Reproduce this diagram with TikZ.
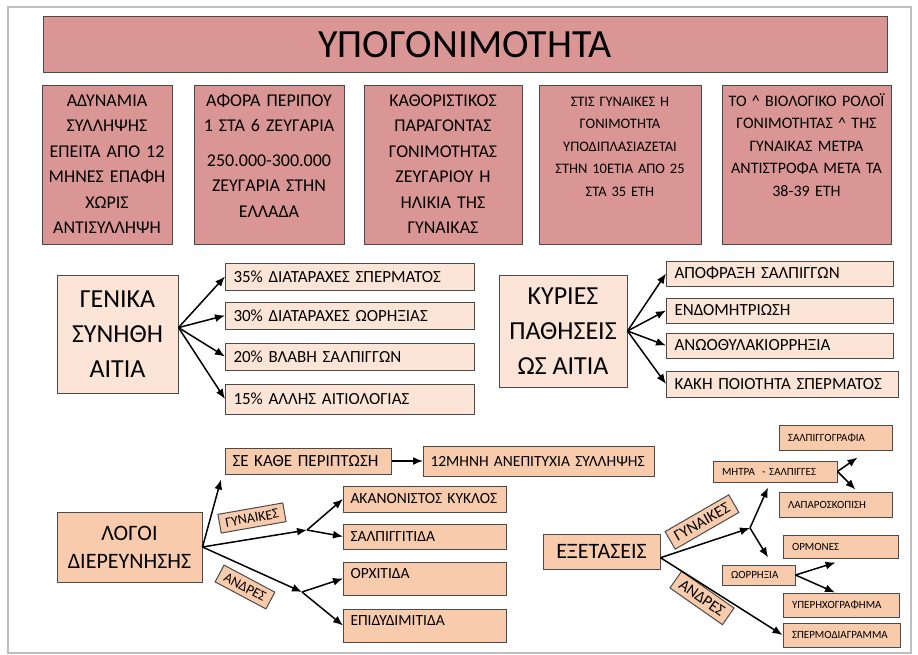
\documentclass[tikz,border=0pt]{standalone}
\usepackage{fontspec}
\setmainfont{Carlito}
\usetikzlibrary{positioning,arrows.meta}

\definecolor{rosebox}{HTML}{D99694}
\definecolor{peachlight}{HTML}{FCE4D6}
\definecolor{peachdark}{HTML}{F8CBAD}
\definecolor{boxline}{HTML}{4A4A4A}
\definecolor{pageline}{HTML}{BFBFBF}

\tikzset{
	box/.style={draw=boxline, line width=1pt},
	titlebox/.style={box, fill=rosebox, minimum width=844pt, minimum height=56pt, font=\fontsize{40}{42}\selectfont},
	topbox/.style={box, fill=rosebox, anchor=north, align=center, inner xsep=3pt, inner ysep=8pt, text height=13pt, text depth=130pt},
	bigbox/.style={box, fill=peachlight, align=center, font=\fontsize{26}{35}\selectfont},
	causebox/.style={box, fill=peachlight, align=left, inner xsep=8pt, minimum height=27pt, font=\fontsize{17}{19}\selectfont},
	midbox/.style={box, fill=peachdark, align=left, inner xsep=7pt, minimum height=26pt, font=\fontsize{15.5}{18}\selectfont},
	highbox/.style={midbox, inner ysep=5pt, text height=11pt, text depth=12pt},
	smallbox/.style={box, fill=peachdark, align=left, inner xsep=9pt, minimum height=24pt, font=\fontsize{11}{13}\selectfont},
	tagbox/.style={box, fill=peachdark, inner xsep=6pt, inner ysep=5pt},
	link/.style={->, line width=1.5pt}
}

\begin{document}
\begin{tikzpicture}[>={Latex[length=10pt,width=8pt]}, x=1pt, y=-1pt]
		\useasboundingbox (0,0) rectangle (918,655);
		\draw[pageline, line width=1.2pt] (8,7) rectangle (911,653);
		% Title and facts
		\node[titlebox] (title) at (465,45) {ΥΠΟΓΟΝΙΜΟΤΗΤΑ};
		\node[topbox, text width=124pt, font=\fontsize{18}{25.5}\selectfont] (b1) at (107,85)
			{ΑΔΥΝΑΜΙΑ\\ΣΥΛΛΗΨΗΣ\\ΕΠΕΙΤΑ ΑΠΟ 12\\ΜΗΝΕΣ ΕΠΑΦΗ\\ΧΩΡΙΣ\\ΑΝΤΙΣΥΛΛΗΨΗ};
		\node[topbox, text width=144pt, font=\fontsize{18}{25.5}\selectfont] (b2) [right=21pt of b1]
			{ΑΦΟΡΑ ΠΕΡΙΠΟΥ\\1 ΣΤΑ 6 ΖΕΥΓΑΡΙΑ\\[9pt]250.000-300.000\\ΖΕΥΓΑΡΙΑ ΣΤΗΝ\\ΕΛΛΑΔΑ};
		\node[topbox, text width=152pt, font=\fontsize{18}{25.5}\selectfont] (b3) [right=19pt of b2]
			{ΚΑΘΟΡΙΣΤΙΚΟΣ\\ΠΑΡΑΓΟΝΤΑΣ\\ΓΟΝΙΜΟΤΗΤΑΣ\\ΖΕΥΓΑΡΙΟΥ Η\\ΗΛΙΚΙΑ ΤΗΣ\\ΓΥΝΑΙΚΑΣ};
		\node[topbox, text width=156pt, font=\fontsize{14.5}{22.5}\selectfont] (b4) [right=16pt of b3]
			{ΣΤΙΣ ΓΥΝΑΙΚΕΣ Η\\ΓΟΝΙΜΟΤΗΤΑ\\ΥΠΟΔΙΠΛΑΣΙΑΖΕΤΑΙ\\ΣΤΗΝ 10ΕΤΙΑ ΑΠΟ 25\\ΣΤΑ 35 ΕΤΗ};
		\node[topbox, text width=163pt, font=\fontsize{16}{22.5}\selectfont] (b5) [right=20pt of b4]
			{ΤΟ \textasciicircum{} ΒΙΟΛΟΓΙΚΟ ΡΟΛΌΙ\\ΓΟΝΙΜΟΤΗΤΑΣ \textasciicircum{} ΤΗΣ\\ΓΥΝΑΙΚΑΣ ΜΕΤΡΑ\\ΑΝΤΙΣΤΡΟΦΑ ΜΕΤΑ ΤΑ\\38-39 ΕΤΗ};
		% General causes
		\node[bigbox, minimum width=121pt, minimum height=118pt] (gen) at (117.5,334) {ΓΕΝΙΚΑ\\ΣΥΝΗΘΗ\\ΑΙΤΙΑ};
		\node[causebox, text width=233pt, anchor=west] (c1) at (225,276.5) {35\% ΔΙΑΤΑΡΑΧΕΣ ΣΠΕΡΜΑΤΟΣ};
		\node[causebox, text width=233pt] (c2) [below=11pt of c1] {30\% ΔΙΑΤΑΡΑΧΕΣ ΩΟΡΗΞΙΑΣ};
		\node[causebox, text width=233pt] (c3) [below=13pt of c2] {20\% ΒΛΑΒΗ ΣΑΛΠΙΓΓΩΝ};
		\node[causebox, text width=233pt, minimum height=30pt] (c4) [below=13pt of c3] {15\% ΑΛΛΗΣ ΑΙΤΙΟΛΟΓΙΑΣ};
		% Main diseases
		\node[bigbox, minimum width=128pt, minimum height=112pt] (dis) at (563,331) {ΚΥΡΙΕΣ\\ΠΑΘΗΣΕΙΣ\\ΩΣ ΑΙΤΙΑ};
		\node[causebox, text width=211pt, minimum height=25pt, anchor=west] (d1) at (666,273.5) {ΑΠΟΦΡΑΞΗ ΣΑΛΠΙΓΓΩΝ};
		\node[causebox, text width=211pt, minimum height=25pt] (d2) [below=11pt of d1] {ΕΝΔΟΜΗΤΡΙΩΣΗ};
		\node[causebox, text width=211pt, minimum height=25pt] (d3) [below=9pt of d2] {ΑΝΩΟΘΥΛΑΚΙΟΡΡΗΞΙΑ};
		\node[causebox, text width=216pt, minimum height=26pt, anchor=west] (d4) at (666,384) {ΚΑΚΗ ΠΟΙΟΤΗΤΑ ΣΠΕΡΜΑΤΟΣ};
		% Reasons for investigation
		\node[box, fill=peachdark, align=center, minimum width=145pt, minimum height=70pt, font=\fontsize{22}{28}\selectfont] (why) at (129.5,547) {ΛΟΓΟΙ\\ΔΙΕΡΕΥΝΗΣΗΣ};
		\node[midbox, text width=152pt, font=\fontsize{17}{19}\selectfont, anchor=west] (any) at (225,461) {ΣΕ ΚΑΘΕ ΠΕΡΙΠΤΩΣΗ};
		\node[midbox, text width=217pt, minimum height=30pt] (fail) [right=31pt of any] {12ΜΗΝΗ ΑΝΕΠΙΤΥΧΙΑ ΣΥΛΛΗΨΗΣ};
		\node[midbox, text width=149pt, anchor=west] (irr) at (343,499) {ΑΚΑΝΟΝΙΣΤΟΣ ΚΥΚΛΟΣ};
		\node[midbox, text width=149pt, minimum height=25pt] (sal) [below=11pt of irr] {ΣΑΛΠΙΓΓΙΤΙΔΑ};
		\node[highbox, text width=149pt] (orx) [below=12pt of sal] {ΟΡΧΙΤΙΔΑ};
		\node[highbox, text width=149pt] (epi) [below=13pt of orx] {ΕΠΙΔΥΔΙΜΙΤΙΔΑ};
		\node[tagbox, rotate=10, font=\fontsize{14}{16}\selectfont] (wl) at (252,518) {ΓΥΝΑΙΚΕΣ};
		\node[tagbox, rotate=-28, font=\fontsize{14}{16}\selectfont] (ml) at (245,587) {ΑΝΔΡΕΣ};
		\coordinate (jw) at (307,530);
		\coordinate (jm) at (302,592);
		% Examinations
		\node[box, fill=peachdark, minimum width=117pt, minimum height=35pt, font=\fontsize{22}{24}\selectfont] (exam) at (601.5,551.5) {ΕΞΕΤΑΣΕΙΣ};
		\node[smallbox, text width=95pt, minimum height=25pt] (hsg) at (835.5,437.5) {ΣΑΛΠΙΓΓΟΓΡΑΦΙΑ};
		\node[smallbox, text width=106pt, minimum height=21pt] (ut) at (775,471.5) {ΜΗΤΡΑ \ - ΣΑΛΠΙΓΓΕΣ};
		\node[smallbox, text width=95pt, minimum height=25pt] (lap) at (835.5,504.5) {ΛΑΠΑΡΟΣΚΟΠΙΣΗ};
		\node[smallbox, text width=97pt, minimum height=23pt] (hor) at (840.5,546.5) {ΟΡΜΟΝΕΣ};
		\node[smallbox, text width=55pt, minimum height=20pt] (ovu) at (758.5,575) {ΩΟΡΡΗΞΙΑ};
		\node[smallbox, text width=98pt] (us) at (841,605) {ΥΠΕΡΗΧΟΓΡΑΦΗΜΑ};
		\node[smallbox, text width=99pt] (sperm) at (841.5,635) {ΣΠΕΡΜΟΔΙΑΓΡΑΜΜΑ};
		\node[tagbox, rotate=30, font=\fontsize{16}{18}\selectfont] (wr) at (702,522) {ΓΥΝΑΙΚΕΣ};
		\node[tagbox, rotate=-35, font=\fontsize{16}{18}\selectfont] (mr) at (702,598) {ΑΝΔΡΕΣ};
		\coordinate (jr) at (750,528);
		% Arrows
		\foreach \c in {c1,c2,c3,c4}
			\draw[link] (gen.6) -- (\c.west);
		\foreach \d in {d1,d2,d3,d4}
			\draw[link] (dis.east) -- (\d.west);
		\draw[link] (why.east) -- ([shift={(-4pt,-5pt)}]any.south west);
		\draw[link] (any.east) -- (fail.west);
		\draw[link] (why.east) -- (jw);
		\draw[link] (why.east) -- (jm);
		\draw[link] (jw) -- (irr.west);
		\draw[link] (jw) -- (sal.west);
		\draw[link] (jm) -- (orx.west);
		\draw[link] (jm) -- (epi.west);
		\draw[link] (exam.-6) -- (jr);
		\draw[link] (exam.-6) -- (sperm.west);
		\draw[link] (jr) -- ([shift={(-7pt,-5pt)}]ut.south);
		\draw[link] (jr) -- ([shift={(9.5pt,7pt)}]ovu.north);
		\draw[link] (ut.east) -- ([shift={(22pt,-7pt)}]hsg.south);
		\draw[link] (ut.east) -- ([shift={(20pt,2pt)}]lap.north);
		\draw[link] (ovu.east) -- ([shift={(-5pt,-4pt)}]hor.south);
		\draw[link] (ovu.east) -- ([xshift=-6pt]us.north);
\end{tikzpicture}
\end{document}
